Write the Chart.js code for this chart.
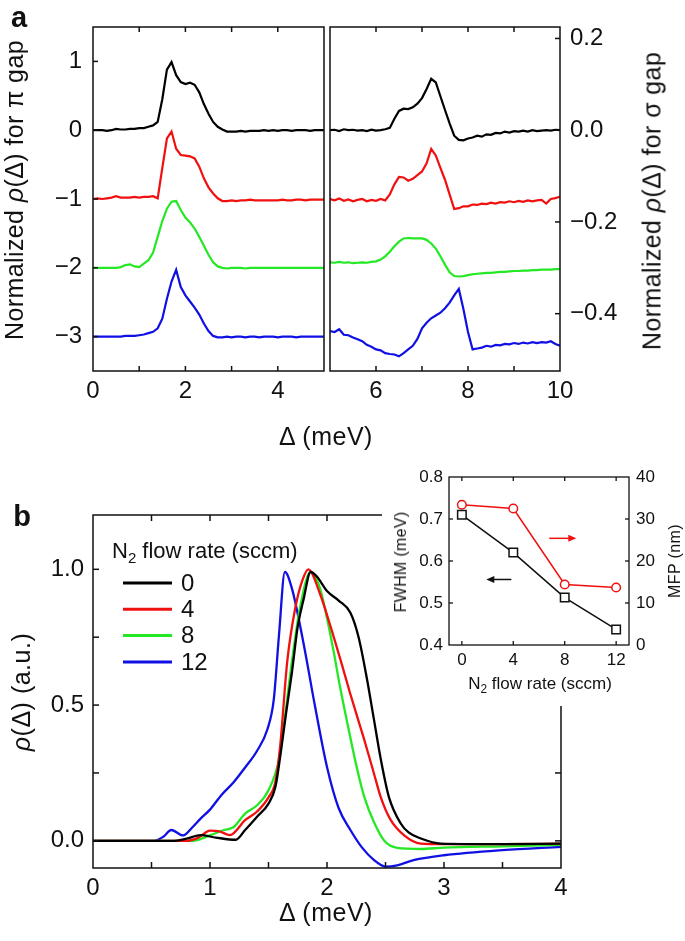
<!DOCTYPE html>
<html>
<head>
<meta charset="utf-8">
<script src="https://cdn.jsdelivr.net/npm/chart.js@4.4.0/dist/chart.umd.min.js"></script>
<style>
  body { margin: 0; background: #fff; }
  #fig { position: relative; width: 685px; height: 941px; overflow: hidden;
         font-family: "Liberation Sans", Arial, sans-serif; color: #111; }
  canvas { position: absolute; }
  .t { position: absolute; white-space: nowrap; line-height: 1; transform: translate(-50%, -50%); }
  .r { transform: translate(-50%, -50%) rotate(-90deg); }
  .t sub { font-size: 70%; line-height: 0; }
</style>
</head>
<body>
<div id="fig">
  <canvas id="piChart" width="330" height="460" style="left:0;top:0"></canvas>
  <canvas id="sigmaChart" width="360" height="460" style="left:325px;top:0"></canvas>
  <canvas id="flowChart" width="685" height="471" style="left:0;top:470px"></canvas>
  <canvas id="insetChart" width="303" height="251" style="left:382px;top:455px"></canvas>

  <div class="t" style="left:19px;top:17px;font-size:29px;font-weight:bold">a</div>
  <div class="t" style="left:22px;top:516px;font-size:29px;font-weight:bold">b</div>
  <div class="t r" style="left:14px;top:190px;font-size:25px;letter-spacing:0.4px">Normalized <i>ρ</i>(Δ) for π gap</div>
  <div class="t r" style="left:652px;top:201px;font-size:25px;letter-spacing:0.4px">Normalized <i>ρ</i>(Δ) for σ gap</div>
  <div class="t" style="left:326px;top:436px;font-size:25px;letter-spacing:0.5px">Δ (meV)</div>
  <div class="t" style="left:326px;top:912px;font-size:25px;letter-spacing:0.5px">Δ (meV)</div>
  <div class="t r" style="left:21px;top:692px;font-size:25px;letter-spacing:0.5px"><i>ρ</i>(Δ) (a.u.)</div>
  <div class="t r" style="left:401px;top:562px;font-size:16px;letter-spacing:0.3px">FWHM (meV)</div>
  <div class="t r" style="left:675px;top:561px;font-size:16px;letter-spacing:0.4px">MFP (nm)</div>
  <div class="t" style="left:540px;top:683px;font-size:17px">N<sub>2</sub> flow rate (sccm)</div>
</div>

<script>
// N2 flow rates (sccm) and line colours
const flowRates = ['0', '4', '8', '12'];
const lineColors = ['#000000', 'rgb(240,16,16)', 'rgb(36,232,36)', 'rgb(16,16,228)'];

// Panel a, pi gap: delta grid (meV) and normalized curves, shifted by offsets
const piDelta = [0.0,0.1,0.2,0.3,0.4,0.5,0.6,0.7,0.8,0.9,1.0,1.1,1.2,1.3,1.4,1.5,1.6,1.7,1.8,1.9,
  2.0,2.1,2.2,2.3,2.4,2.5,2.6,2.7,2.8,2.9,3.0,3.1,3.2,3.3,3.4,3.5,3.6,3.7,3.8,3.9,
  4.0,4.1,4.2,4.3,4.4,4.5,4.6,4.7,4.8,4.9,5.0];
const piOffsets = [0, -1, -2, -3];
const pi0 = [0.00,0.00,0.00,-0.01,0.00,0.02,0.01,0.01,0.02,0.02,
  0.03,0.03,0.05,0.07,0.12,0.45,0.88,0.99,0.80,0.70,
  0.67,0.69,0.66,0.55,0.38,0.24,0.12,0.05,0.01,-0.02,
  -0.02,-0.02,-0.01,-0.02,-0.01,-0.01,-0.01,0.00,-0.01,0.00,
  -0.01,0.00,0.00,-0.01,0.00,0.00,0.00,-0.01,0.00,0.00,0.00];
const pi4 = [0.00,0.01,0.00,0.01,0.02,0.04,0.02,0.02,0.02,0.03,
  0.02,0.03,0.03,0.04,0.01,0.45,0.88,0.98,0.73,0.64,
  0.63,0.62,0.59,0.47,0.30,0.17,0.08,0.01,-0.03,-0.03,
  -0.02,-0.03,-0.02,-0.02,-0.01,-0.02,-0.02,-0.02,-0.02,-0.02,
  -0.02,-0.01,-0.02,-0.02,-0.01,-0.01,-0.02,-0.01,-0.01,-0.01,-0.01];
const pi8 = [0.00,0.00,0.00,0.00,0.00,0.00,0.01,0.04,0.05,0.02,
  0.01,0.06,0.11,0.22,0.45,0.68,0.86,0.96,0.97,0.84,
  0.73,0.66,0.57,0.45,0.32,0.19,0.08,0.02,0.00,-0.01,
  0.00,0.00,0.00,-0.01,0.00,0.00,0.00,0.00,0.00,0.00,
  0.00,0.00,0.00,0.00,0.00,0.00,0.00,0.00,0.00,0.00,0.00];
const pi12 = [0.00,0.00,0.00,0.00,0.00,0.00,0.00,0.01,0.01,0.01,
  0.02,0.03,0.05,0.07,0.12,0.26,0.55,0.80,0.97,0.72,
  0.60,0.51,0.42,0.32,0.19,0.08,0.01,-0.01,-0.01,0.00,
  -0.01,0.00,0.00,-0.01,0.00,0.00,-0.01,0.00,0.00,0.00,
  -0.01,0.00,0.00,0.00,-0.01,0.00,0.00,0.00,0.00,0.00,0.00];
const piTicks = [-3, -2, -1, 0, 1];
const piXTicks = [0, 2, 4];

// Panel a, sigma gap (already offset on the sigma axis)
const sigmaDelta = [5.0,5.1,5.2,5.3,5.4,5.5,5.6,5.7,5.8,5.9,6.0,6.1,6.2,6.3,6.4,6.5,6.6,6.7,6.8,6.9,
  7.0,7.1,7.2,7.3,7.4,7.5,7.6,7.7,7.8,7.9,8.0,8.1,8.2,8.3,8.4,8.5,8.6,8.7,8.8,8.9,
  9.0,9.1,9.2,9.3,9.4,9.5,9.6,9.7,9.8,9.9,10.0];
const sigma0 = [0.000,0.001,-0.002,0.002,0.000,0.001,-0.001,0.000,-0.002,0.001,
  -0.001,0.000,0.002,0.005,0.025,0.042,0.047,0.046,0.050,0.058,
  0.070,0.090,0.112,0.104,0.074,0.044,0.015,-0.012,-0.021,-0.022,
  -0.018,-0.016,-0.012,-0.014,-0.009,-0.010,-0.006,-0.007,-0.003,-0.005,
  -0.002,-0.003,-0.001,-0.003,0.000,-0.002,-0.001,0.000,-0.001,0.001,0.000];
const sigma4 = [-0.150,-0.153,-0.149,-0.154,-0.151,-0.155,-0.152,-0.150,-0.155,-0.152,
  -0.154,-0.150,-0.153,-0.140,-0.118,-0.102,-0.103,-0.110,-0.106,-0.098,
  -0.090,-0.072,-0.041,-0.055,-0.082,-0.108,-0.140,-0.172,-0.170,-0.166,
  -0.166,-0.162,-0.163,-0.160,-0.161,-0.158,-0.160,-0.157,-0.158,-0.155,
  -0.157,-0.154,-0.156,-0.153,-0.155,-0.153,-0.152,-0.160,-0.150,-0.148,-0.145];
const sigma8 = [-0.288,-0.289,-0.287,-0.289,-0.288,-0.290,-0.289,-0.288,-0.289,-0.287,
  -0.286,-0.282,-0.275,-0.265,-0.253,-0.243,-0.236,-0.235,-0.236,-0.236,
  -0.236,-0.239,-0.247,-0.258,-0.275,-0.293,-0.310,-0.318,-0.319,-0.318,
  -0.316,-0.314,-0.313,-0.312,-0.311,-0.311,-0.310,-0.309,-0.309,-0.308,
  -0.307,-0.307,-0.306,-0.306,-0.305,-0.305,-0.304,-0.304,-0.304,-0.303,-0.303];
const sigma12 = [-0.438,-0.440,-0.434,-0.446,-0.447,-0.452,-0.456,-0.460,-0.468,-0.472,
  -0.478,-0.480,-0.486,-0.488,-0.489,-0.493,-0.486,-0.478,-0.470,-0.455,
  -0.432,-0.420,-0.410,-0.404,-0.398,-0.388,-0.376,-0.360,-0.346,-0.390,
  -0.440,-0.478,-0.476,-0.474,-0.470,-0.472,-0.468,-0.469,-0.466,-0.467,
  -0.464,-0.466,-0.463,-0.465,-0.462,-0.464,-0.462,-0.463,-0.460,-0.466,-0.470];
const sigmaTicks = [-0.4, -0.2, 0, 0.2];
const sigmaXTicks = [6, 8, 10];

// Panel b: rho(delta) for each flow rate
const b0Delta = [0,0.7,0.8,0.92,1.05,1.22,1.3,1.4,1.5,1.56,1.6,1.65,1.7,1.75,1.8,1.86,1.92,2.0,2.1,2.2,2.27,2.34,2.4,2.46,2.53,2.63,2.7,2.8,2.97,3.5,4.0];
const b0Rho = [0,0,0.008,0.021,0.012,0.004,0.04,0.088,0.137,0.2,0.31,0.47,0.62,0.79,0.89,0.99,0.97,0.92,0.885,0.84,0.75,0.6,0.45,0.3,0.16,0.064,0.03,0.009,-0.01,-0.012,-0.01];
const b4Delta = [0,0.8,0.9,1.0,1.08,1.17,1.3,1.4,1.5,1.56,1.6,1.66,1.73,1.79,1.84,1.94,2.03,2.12,2.2,2.32,2.4,2.46,2.54,2.66,2.8,3.0,3.5,4.0];
const b4Rho = [0,0,0.012,0.038,0.035,0.021,0.076,0.107,0.16,0.22,0.35,0.66,0.86,0.96,1.0,0.91,0.79,0.66,0.54,0.37,0.25,0.16,0.08,0.02,-0.01,-0.012,-0.012,-0.01];
const b8Delta = [0,0.85,1.0,1.12,1.2,1.3,1.4,1.5,1.59,1.63,1.7,1.77,1.86,1.94,2.0,2.06,2.11,2.19,2.26,2.32,2.4,2.49,2.6,2.8,3.0,3.5,4.0];
const b8Rho = [0,0,0.02,0.04,0.05,0.1,0.13,0.186,0.3,0.42,0.66,0.86,0.99,0.93,0.82,0.69,0.57,0.4,0.26,0.16,0.07,0.0,-0.026,-0.03,-0.025,-0.02,-0.015];
const b12Delta = [0,0.52,0.6,0.67,0.77,0.85,0.92,1.0,1.1,1.2,1.3,1.4,1.49,1.545,1.59,1.64,1.7,1.8,1.9,2.0,2.1,2.2,2.3,2.4,2.5,2.6,2.74,3.0,3.5,4.0];
const b12Rho = [0,0,0.015,0.04,0.02,0.05,0.082,0.115,0.17,0.215,0.27,0.33,0.41,0.52,0.76,0.99,0.93,0.726,0.49,0.272,0.12,0.04,-0.025,-0.07,-0.095,-0.09,-0.071,-0.053,-0.034,-0.022];
const rhoTicks = [0, 0.5, 1.0];
const rhoXTicks = [0, 1, 2, 3, 4];

// Inset: FWHM and mean free path vs flow rate
const insetFlow = [0, 4, 8, 12];
const fwhm = [0.71, 0.62, 0.513, 0.437];
const mfp = [33.4, 32.5, 14.4, 13.7];
const fwhmTicks = [0.4, 0.5, 0.6, 0.7, 0.8];
const mfpTicks = [0, 10, 20, 30, 40];

const FONT = '"Liberation Sans", Arial, sans-serif';
const minus = v => String(v).replace('-', '\u2212');
const pts = (xs, ys, off = 0) => xs.map((x, i) => ({ x: x, y: ys[i] + off }));
const fixTicks = arr => s => { s.ticks = arr.map(v => ({ value: v })); };

// frame round the plot area plus inward-pointing tick marks
const frameTicks = {
  id: 'frameTicks',
  beforeDraw(chart, args, opts) {
    if (opts.background) {
      const c = chart.ctx;
      c.save(); c.fillStyle = opts.background;
      c.fillRect(0, 0, chart.width, chart.height); c.restore();
    }
  },
  afterDatasetsDraw(chart, args, opts) {
    const { ctx, chartArea: a, scales } = chart;
    ctx.save();
    ctx.strokeStyle = '#111';
    ctx.lineWidth = opts.lineWidth || 1.5;
    ctx.strokeRect(a.left, a.top, a.right - a.left, a.bottom - a.top);
    const len = opts.length || 5;
    (opts.marks || []).forEach(m => {
      const s = scales[m.scale];
      m.values.forEach(v => {
        const p = s.getPixelForValue(v);
        m.sides.forEach(side => {
          ctx.beginPath();
          if (side === 'top') { ctx.moveTo(p, a.top); ctx.lineTo(p, a.top + len); }
          if (side === 'bottom') { ctx.moveTo(p, a.bottom); ctx.lineTo(p, a.bottom - len); }
          if (side === 'left') { ctx.moveTo(a.left, p); ctx.lineTo(a.left + len, p); }
          if (side === 'right') { ctx.moveTo(a.right, p); ctx.lineTo(a.right - len, p); }
          ctx.stroke();
        });
      });
    });
    ctx.restore();
  }
};

// legend of panel b, drawn from the datasets
const flowLegend = {
  id: 'flowLegend',
  afterDraw(chart, args, opts) {
    if (!opts.show) return;
    const ctx = chart.ctx;
    ctx.save();
    ctx.fillStyle = '#111';
    ctx.textBaseline = 'alphabetic';
    let x = opts.titleX;
    ctx.font = '22px ' + FONT;
    ctx.fillText('N', x, opts.titleY);
    x += ctx.measureText('N').width;
    ctx.font = '15px ' + FONT;
    ctx.fillText('2', x, opts.titleY + 5);
    x += ctx.measureText('2').width;
    ctx.font = '22px ' + FONT;
    ctx.fillText(' flow rate (sccm)', x, opts.titleY);
    ctx.textBaseline = 'middle';
    ctx.font = '24px ' + FONT;
    chart.data.datasets.forEach((ds, i) => {
      const y = opts.y0 + i * opts.dy;
      ctx.strokeStyle = ds.borderColor;
      ctx.lineWidth = 3;
      ctx.beginPath(); ctx.moveTo(opts.lineX0, y); ctx.lineTo(opts.lineX1, y); ctx.stroke();
      ctx.fillText(ds.label, opts.textX, y + 1);
    });
    ctx.restore();
  }
};

// arrows in the inset showing which axis each curve uses
const axisArrows = {
  id: 'axisArrows',
  afterDatasetsDraw(chart, args, opts) {
    const ctx = chart.ctx;
    (opts.items || []).forEach(it => {
      const xs = chart.scales.x, ys = chart.scales[it.axis];
      const x0 = xs.getPixelForValue(it.from), x1 = xs.getPixelForValue(it.to);
      const y = ys.getPixelForValue(it.at);
      const dir = Math.sign(x1 - x0);
      ctx.save();
      ctx.strokeStyle = it.color; ctx.fillStyle = it.color; ctx.lineWidth = 1.5;
      ctx.beginPath(); ctx.moveTo(x0, y); ctx.lineTo(x1 - dir * 5, y); ctx.stroke();
      ctx.beginPath(); ctx.moveTo(x1, y); ctx.lineTo(x1 - dir * 8, y - 3.5); ctx.lineTo(x1 - dir * 8, y + 3.5);
      ctx.closePath(); ctx.fill();
      ctx.restore();
    });
  }
};

function lineSet(label, color, data, extra) {
  return Object.assign({ label: label, data: data, borderColor: color, borderWidth: 2.2,
    pointRadius: 0, fill: false, tension: 0 }, extra || {});
}

function axis(opts) {
  return Object.assign({
    type: 'linear',
    grid: { display: false, drawTicks: false },
    border: { display: false }
  }, opts);
}

const tickFont = { family: FONT, size: 24 };
const baseOptions = {
  responsive: false,
  animation: false,
  events: [],
  plugins: { legend: { display: false }, tooltip: { enabled: false } }
};

// ---- panel a, pi gap
const piSeries = [pi0, pi4, pi8, pi12];
new Chart(document.getElementById('piChart'), {
  type: 'line',
  data: { datasets: piSeries.map((s, i) => lineSet(flowRates[i], lineColors[i], pts(piDelta, s, piOffsets[i]))) },
  options: Object.assign({}, baseOptions, {
    layout: { padding: { top: 27, right: 6, left: 0, bottom: 0 } },
    plugins: Object.assign({}, baseOptions.plugins, {
      frameTicks: { length: 5, marks: [
        { scale: 'x', values: [1, 2, 3, 4], sides: ['top', 'bottom'] },
        { scale: 'y', values: piTicks, sides: ['left'] }
      ] }
    }),
    scales: {
      x: axis({ min: 0, max: 5, afterBuildTicks: fixTicks(piXTicks), afterFit: s => { s.height = 89; },
        ticks: { font: tickFont, color: '#111', padding: 6, autoSkip: false, maxRotation: 0 } }),
      y: axis({ min: -3.5, max: 1.5, afterBuildTicks: fixTicks(piTicks), afterFit: s => { s.width = 93; },
        ticks: { font: tickFont, color: '#111', padding: 11, callback: v => minus(v) } })
    }
  }),
  plugins: [frameTicks]
});

// ---- panel a, sigma gap
const sigmaSeries = [sigma0, sigma4, sigma8, sigma12];
new Chart(document.getElementById('sigmaChart'), {
  type: 'line',
  data: { datasets: sigmaSeries.map((s, i) => lineSet(flowRates[i], lineColors[i], pts(sigmaDelta, s))) },
  options: Object.assign({}, baseOptions, {
    layout: { padding: { top: 27, right: 0, left: 5, bottom: 0 } },
    plugins: Object.assign({}, baseOptions.plugins, {
      frameTicks: { length: 5, marks: [
        { scale: 'x', values: [6, 7, 8, 9], sides: ['top', 'bottom'] },
        { scale: 'y', values: sigmaTicks, sides: ['right'] }
      ] }
    }),
    scales: {
      x: axis({ min: 5, max: 10, afterBuildTicks: fixTicks(sigmaXTicks), afterFit: s => { s.height = 89; },
        ticks: { font: tickFont, color: '#111', padding: 6, autoSkip: false, maxRotation: 0 } }),
      y: axis({ position: 'right', min: -0.525, max: 0.225, afterBuildTicks: fixTicks(sigmaTicks),
        afterFit: s => { s.width = 125; },
        ticks: { font: tickFont, color: '#111', padding: 10, callback: v => minus(v.toFixed(1)) } })
    }
  }),
  plugins: [frameTicks]
});

// ---- panel b
const bDeltas = [b0Delta, b4Delta, b8Delta, b12Delta];
const bRhos = [b0Rho, b4Rho, b8Rho, b12Rho];
new Chart(document.getElementById('flowChart'), {
  type: 'line',
  data: { datasets: bRhos.map((r, i) => lineSet(flowRates[i], lineColors[i], pts(bDeltas[i], r),
    { borderWidth: 2.3, cubicInterpolationMode: 'monotone' })) },
  options: Object.assign({}, baseOptions, {
    layout: { padding: { top: 45, right: 124, left: 0, bottom: 0 } },
    plugins: Object.assign({}, baseOptions.plugins, {
      frameTicks: { length: 6, marks: [
        { scale: 'x', values: [0.5, 1, 1.5, 2, 2.5, 3, 3.5], sides: ['top', 'bottom'] },
        { scale: 'y', values: [0, 0.25, 0.5, 0.75, 1.0], sides: ['left', 'right'] }
      ] },
      flowLegend: { show: true, titleX: 112, titleY: 88, lineX0: 123, lineX1: 172, textX: 181, y0: 113, dy: 26.3 }
    }),
    scales: {
      x: axis({ min: 0, max: 4, afterBuildTicks: fixTicks(rhoXTicks), afterFit: s => { s.height = 73; },
        ticks: { font: tickFont, color: '#111', padding: 6, autoSkip: false, maxRotation: 0 } }),
      y: axis({ min: -0.1, max: 1.2, afterBuildTicks: fixTicks(rhoTicks), afterFit: s => { s.width = 93; },
        ticks: { font: tickFont, color: '#111', padding: 9, callback: v => v.toFixed(1) } })
    }
  }),
  plugins: [frameTicks, flowLegend]
});

// ---- inset
const smallFont = { family: FONT, size: 17 };
new Chart(document.getElementById('insetChart'), {
  type: 'line',
  data: { datasets: [
    { label: 'FWHM', data: pts(insetFlow, fwhm), yAxisID: 'y', borderColor: '#111', borderWidth: 1.5,
      pointStyle: 'rect', pointRadius: 6, pointBorderWidth: 1.5, pointBackgroundColor: '#fff',
      pointBorderColor: '#111', tension: 0 },
    { label: 'MFP', data: pts(insetFlow, mfp), yAxisID: 'y2', borderColor: 'rgb(240,16,16)', borderWidth: 1.5,
      pointStyle: 'circle', pointRadius: 4.3, pointBorderWidth: 1.5, pointBackgroundColor: '#fff',
      pointBorderColor: 'rgb(240,16,16)', tension: 0 }
  ] },
  options: Object.assign({}, baseOptions, {
    layout: { padding: { top: 22, right: 0, left: 0, bottom: 0 } },
    plugins: Object.assign({}, baseOptions.plugins, {
      frameTicks: { background: '#fff', length: 4, lineWidth: 1.3, marks: [
        { scale: 'x', values: insetFlow, sides: ['top', 'bottom'] },
        { scale: 'y', values: [0.5, 0.6, 0.7], sides: ['left'] },
        { scale: 'y2', values: [10, 20, 30], sides: ['right'] }
      ] },
      axisArrows: { items: [
        { axis: 'y2', from: 6.8, to: 8.9, at: 25.4, color: 'rgb(240,16,16)' },
        { axis: 'y', from: 3.85, to: 1.9, at: 0.556, color: '#111' }
      ] }
    }),
    scales: {
      x: axis({ min: -1, max: 13, afterBuildTicks: fixTicks(insetFlow), afterFit: s => { s.height = 61; },
        ticks: { font: smallFont, color: '#111', padding: 5, autoSkip: false, maxRotation: 0 } }),
      y: axis({ min: 0.4, max: 0.8, afterBuildTicks: fixTicks(fwhmTicks), afterFit: s => { s.width = 67; },
        ticks: { font: smallFont, color: '#111', padding: 6, callback: v => v.toFixed(1) } }),
      y2: axis({ position: 'right', min: 0, max: 40, afterBuildTicks: fixTicks(mfpTicks), afterFit: s => { s.width = 56; },
        ticks: { font: smallFont, color: '#111', padding: 7 } })
    }
  }),
  plugins: [frameTicks, axisArrows]
});
</script>
</body>
</html>
